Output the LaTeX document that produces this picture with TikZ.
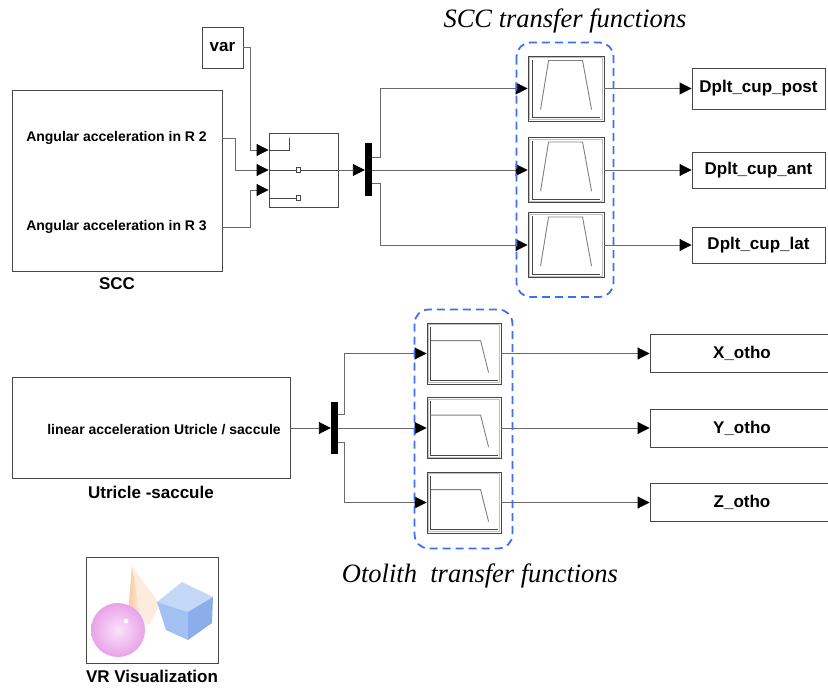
\documentclass[tikz,border=0pt]{standalone}
\usepackage{fontspec}
\setmainfont{Liberation Sans}
\newfontfamily\titlefont{Liberation Serif}
\usepackage{tikz}
\usetikzlibrary{arrows.meta,calc,positioning}
\definecolor{wiregray}{HTML}{6A6A6A}
\definecolor{framegray}{HTML}{474747}
\definecolor{icongray}{HTML}{808080}
\definecolor{groupblue}{HTML}{3D6FF2}
\definecolor{vrpink}{HTML}{E9A2EA}
\definecolor{vrpeach}{HTML}{F7D6BA}
\definecolor{cubetop}{HTML}{C3D8F7}
\definecolor{cubeleft}{HTML}{A2C0F1}
\definecolor{cuberight}{HTML}{8BAEEA}
\tikzset{
  block/.style={rectangle,draw=framegray,fill=white,line width=0.9pt,inner sep=0pt},
  tf/.style={block,minimum width=76pt,minimum height=65pt},
  otf/.style={block,minimum width=74pt,minimum height=61pt},
  outport/.style={block,minimum width=133pt,font=\fontsize{17}{20}\selectfont\bfseries},
  bar/.style={rectangle,fill=black,inner sep=0pt,minimum width=7pt},
  porttext/.style={inner sep=0pt,font=\fontsize{14}{16}\selectfont\bfseries},
  blocklabel/.style={font=\fontsize{17}{20}\selectfont\bfseries},
  title/.style={inner sep=0pt,font=\titlefont\itshape\fontsize{26.5}{30}\selectfont},
  wire/.style={draw=wiregray,line width=0.9pt,-{Triangle[length=12pt,width=12pt,color=black]}},
  icon/.style={draw=framegray,line width=0.8pt},
  inset/.style={draw=black!25,line width=0.7pt},
  curve/.style={draw=icongray,line width=0.9pt},
  swport/.style={rectangle,draw=framegray,fill=white,line width=0.6pt,inner sep=0pt,
    minimum width=4pt,minimum height=5pt},
  group/.style={draw=groupblue,line width=1.8pt,dash pattern=on 8pt off 5pt,rounded corners=14pt}
}
\begin{document}
\begin{tikzpicture}[x=1pt,y=-1pt]
\useasboundingbox (0,0) rectangle (828,690);

% semicircular canals
\node[block,minimum width=210pt,minimum height=181pt] (scc) at (117,180.5) {};
\node[porttext] (r2) at (116.5,138) {Angular acceleration in R 2};
\node[porttext] (r3) at (116.5,227) {Angular acceleration in R 3};
\node[blocklabel,below=3pt of scc] (scclabel) {SCC};

\node[block,blocklabel,minimum width=41pt,minimum height=41pt] (var) at (222.5,47.5) {var};
\node[block,minimum width=69pt,minimum height=74pt] (sw) at (303.5,170) {};
\node[bar,minimum height=53pt] (sccbar) at (368.5,170) {};

% switch icon
\draw[icon] ($(sw.west)+(0,-20)$) -- ++(21,0) -- ++(0,-12);
\draw[icon] (sw.west) -- (sw.east);
\draw[icon] ($(sw.west)+(1,28)$) -- ++(29,0);
\node[swport] (swmid) at ($(sw.west)+(30,0)$) {};
\node[swport] (swlow) at ($(sw.west)+(30,28)$) {};

\node[tf] (tfpost) at (566,88.5) {};
\node[tf] (tfant) at (566,170) {};
\node[tf] (tflat) at (566,245) {};
\foreach \t in {tfpost,tfant,tflat}{
  \draw[inset] ($(\t.north west)+(2,2)$) rectangle ($(\t.south east)+(-2,-2)$);
  \draw[icon] ($(\t.north west)+(5,4)$) |- ($(\t.south east)+(-4,-4)$);
  \draw[curve] ($(\t.north west)+(13,54)$) -- ++(8,-49) -- ++(34,0) -- ++(9,49);
}

\node[outport,minimum height=41pt] (post) at (758.5,88.5) {Dplt\_cup\_post};
\node[outport,minimum height=36pt] (ant) at (758.5,170) {Dplt\_cup\_ant};
\node[outport,minimum height=36pt] (lat) at (758.5,245) {Dplt\_cup\_lat};

\draw[wire] (var.east) -- ++(7,0) |- ($(sw.west)+(0,-20)$);
\draw[wire] (r2.east -| scc.east) -- ++(13,0) |- (sw.west);
\draw[wire] (r3.east -| scc.east) -- ++(28,0) |- ($(sw.west)+(0,20)$);
\draw[wire] (sw) -- (sccbar);
\draw[wire] ($(sccbar.east)+(0,-13)$) -- ++(8,0) |- (tfpost.west);
\draw[wire] (sccbar) -- (tfant);
\draw[wire] ($(sccbar.east)+(0,13)$) -- ++(8,0) |- (tflat.west);
\draw[wire] (tfpost) -- (post);
\draw[wire] (tfant) -- (ant);
\draw[wire] (tflat) -- (lat);

\draw[group] ($(tfpost.north west)+(-11,-13)$) rectangle ($(tflat.south east)+(9,19)$);
\node[title,anchor=base] (scctitle) at (565,28) {SCC transfer functions};

% otoliths
\node[block,minimum width=278pt,minimum height=101pt] (utr) at (151,428) {};
\node[porttext,anchor=east] (lin) at (281,430) {linear acceleration Utricle / saccule};
\node[blocklabel,below=4pt of utr] (utrlabel) {Utricle -saccule};
\node[bar,minimum height=52pt] (otobar) at (334.5,428) {};

\node[otf] (tfx) at (464,353.5) {};
\node[otf] (tfy) at (464,428) {};
\node[otf] (tfz) at (464,502.5) {};
\foreach \t in {tfx,tfy,tfz}{
  \draw[inset] ($(\t.north west)+(2,2)$) rectangle ($(\t.south east)+(-2,-2)$);
  \draw[icon] ($(\t.north west)+(4,4)$) |- ($(\t.south east)+(-3,-4)$);
  \draw[curve] ($(\t.north west)+(4,18)$) -- ++(50,0) -- ++(8,32);
}

\node[outport,minimum width=184pt,minimum height=38pt] (xo) at (742,353.5) {X\_otho};
\node[outport,minimum width=184pt,minimum height=38pt] (yo) at (742,428) {Y\_otho};
\node[outport,minimum width=184pt,minimum height=38pt] (zo) at (742,502.5) {Z\_otho};

\draw[wire] (utr) -- (otobar);
\draw[wire] ($(otobar.east)+(0,-14)$) -- ++(6,0) |- (tfx.west);
\draw[wire] (otobar) -- (tfy);
\draw[wire] ($(otobar.east)+(0,14)$) -- ++(6,0) |- (tfz.west);
\draw[wire] (tfx) -- (xo);
\draw[wire] (tfy) -- (yo);
\draw[wire] (tfz) -- (zo);

\draw[group] ($(tfx.north west)+(-12,-13)$) rectangle ($(tfz.south east)+(11,15)$);
\node[title,anchor=base] (ototitle) at (480,582) {Otolith\ \ transfer functions};

% scene preview: cone, sphere, cube
\node[block,minimum width=132pt,minimum height=106pt] (vr) at (152,610) {};
\node[blocklabel,below=3pt of vr] (vrlabel) {VR Visualization};
\fill[vrpeach,opacity=0.45] (133,568) -- (160,604) -- (150,624) -- (138,626) -- cycle;
\shade[left color=vrpeach!80!orange,right color=vrpeach!35] (132,565) -- (127,628) -- (142,628) -- cycle;
\shade[inner color=vrpink!30,outer color=vrpink] (118,630) circle[radius=27];
\fill[white,opacity=0.8] (126,621) circle[radius=2.5];
\fill[cubetop] (157,602) -- (182,582) -- (213,597) -- (188,612) -- cycle;
\fill[cubeleft] (157,602) -- (188,612) -- (188,640) -- (166,630) -- cycle;
\fill[cuberight] (188,612) -- (213,597) -- (212,623) -- (188,640) -- cycle;
\end{tikzpicture}
\end{document}
